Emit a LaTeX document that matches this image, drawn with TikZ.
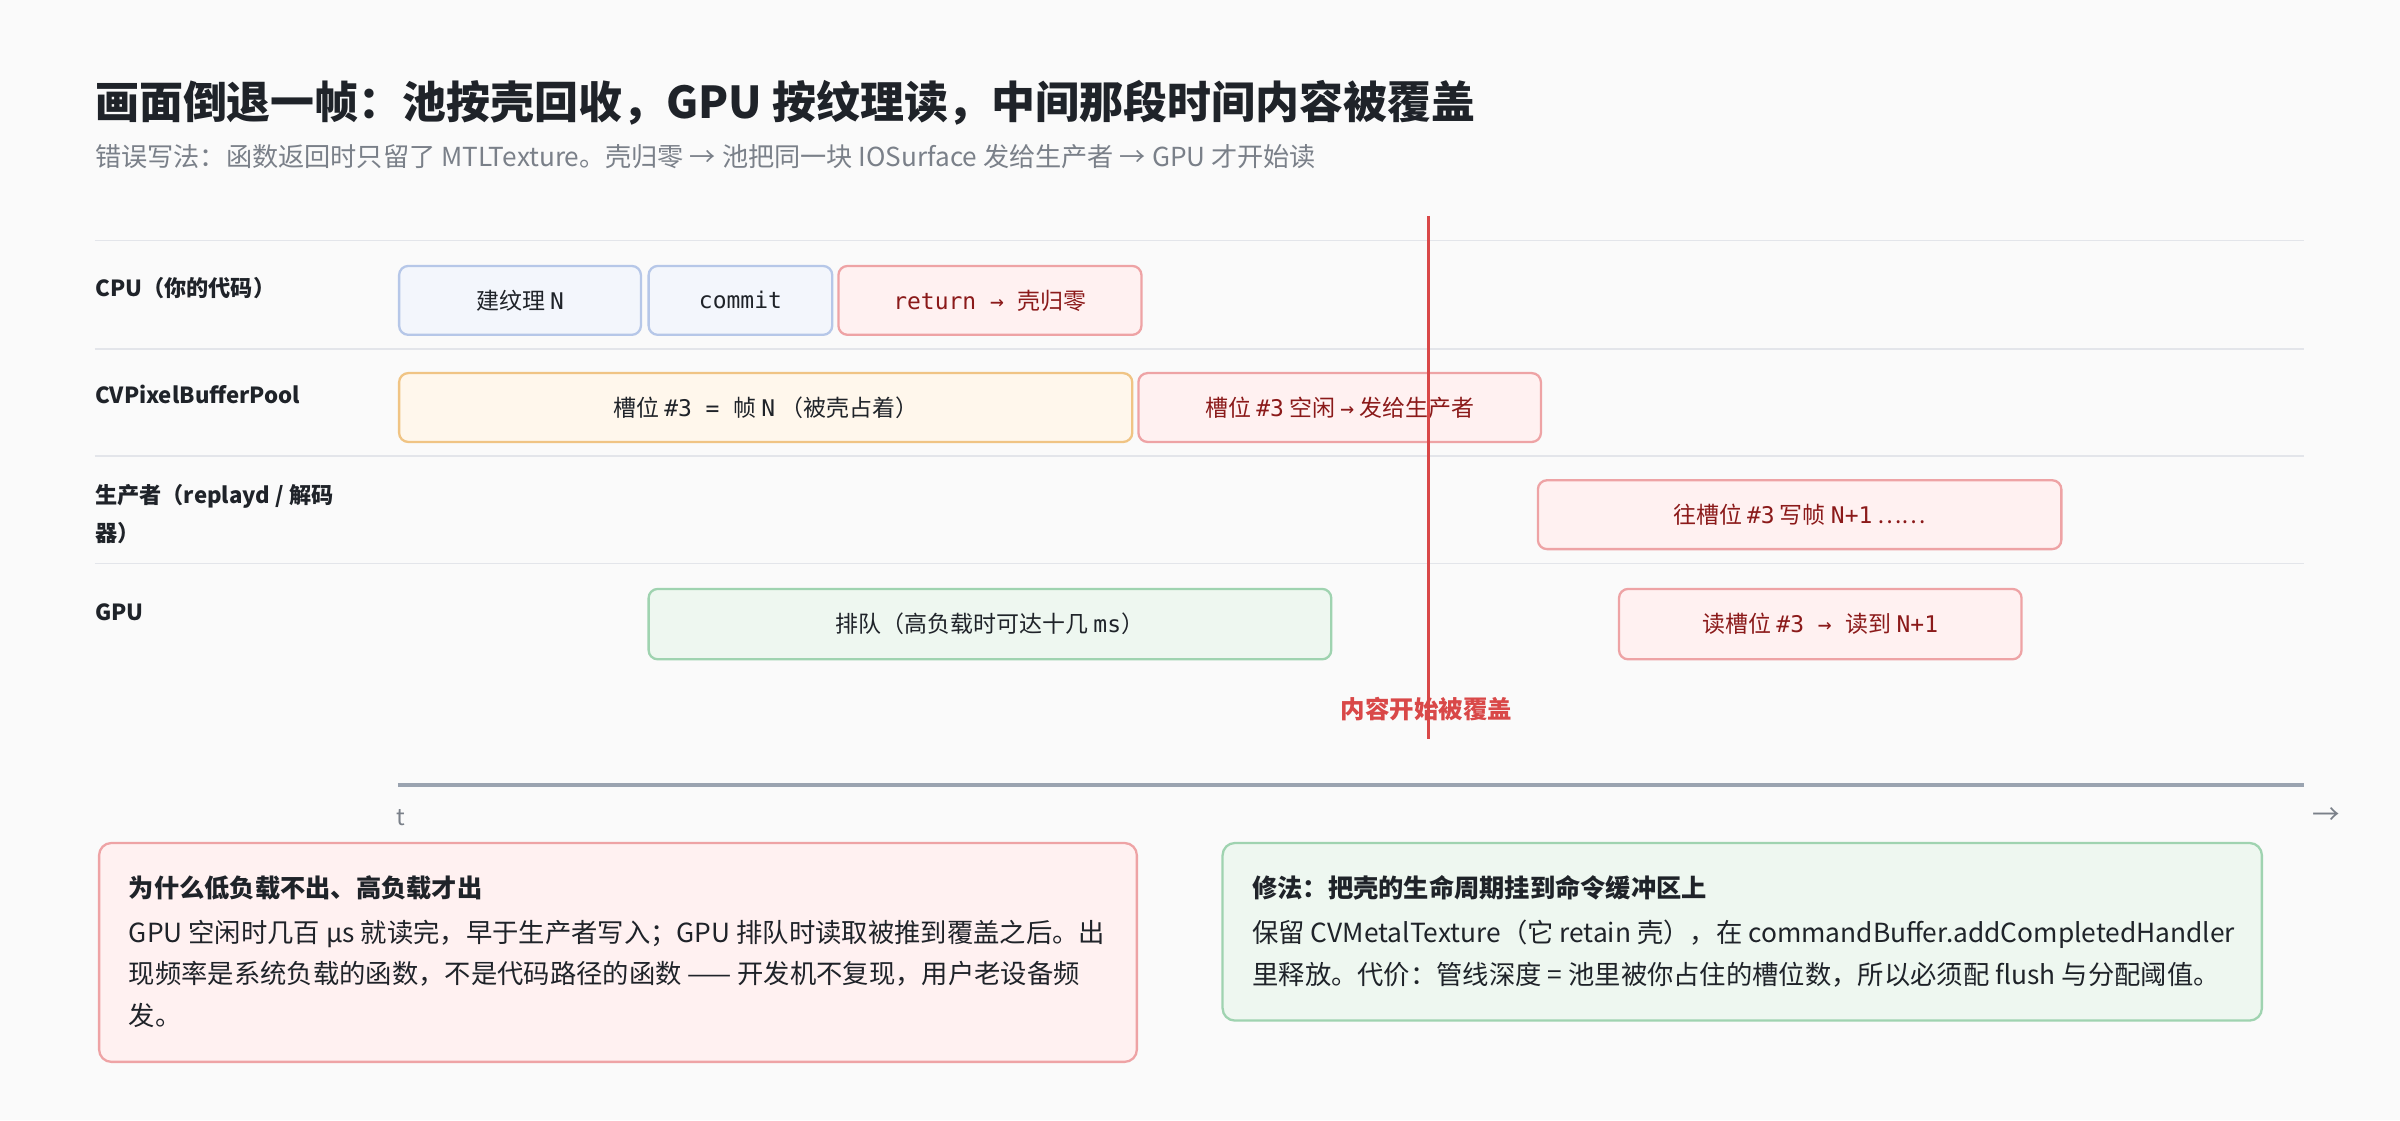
\documentclass[tikz,border=0pt]{standalone}
\usepackage{fontspec}
\setmainfont{Noto Sans CJK SC}
\newfontfamily\monof{DejaVu Sans Mono}
\newcommand{\m}[1]{{\monof #1}}
\usepackage{tikz}
\definecolor{bgpaper}{HTML}{FAFAFA}
\definecolor{inkdark}{HTML}{1F2329}
\definecolor{inkgray}{HTML}{7A8089}
\definecolor{rulegray}{HTML}{E3E5EA}
\definecolor{axisgray}{HTML}{9AA3B0}
\definecolor{blueline}{HTML}{B6C7E8}
\definecolor{bluefill}{HTML}{F3F6FC}
\definecolor{redline}{HTML}{EEA3A5}
\definecolor{redfill}{HTML}{FFF1F1}
\definecolor{redtext}{HTML}{8B1A1A}
\definecolor{orangeline}{HTML}{F0C484}
\definecolor{orangefill}{HTML}{FFF7EC}
\definecolor{greenline}{HTML}{9FD3B0}
\definecolor{greenfill}{HTML}{EEF7F0}
\definecolor{alertred}{HTML}{D94848}

\begin{document}
\begin{tikzpicture}[x=1pt, y=-1pt]
    \tikzstyle{lane} = [anchor=west, font=\fontsize{14.5}{17}\selectfont\bfseries, text=inkdark, inner sep=0pt]
    \tikzstyle{span} = [rectangle, rounded corners=6pt, line width=1.5pt, anchor=north west, inner sep=0pt, font=\fontsize{15}{18}\selectfont]
    \tikzstyle{mine} = [span, draw=blueline, fill=bluefill, text=inkdark]
    \tikzstyle{pool} = [span, draw=orangeline, fill=orangefill, text=inkdark]
    \tikzstyle{bad} = [span, draw=redline, fill=redfill, text=redtext]
    \tikzstyle{queue} = [span, draw=greenline, fill=greenfill, text=inkdark]
    \tikzstyle{note} = [rectangle, rounded corners=8pt, line width=1.5pt, anchor=north west, inner sep=0pt]
    \tikzstyle{notetext} = [anchor=north west, inner sep=0pt, align=left, text=inkdark, font=\fontsize{17.2}{27}\selectfont]

    \useasboundingbox [fill=bgpaper] (0,0) rectangle (1568,732);

    % Title
    \node [anchor=west, inner sep=0pt, text=inkdark, font=\fontsize{28.7}{32}\selectfont\bfseries] (title) at (62,67) {画面倒退一帧：池按壳回收，GPU 按纹理读，中间那段时间内容被覆盖};
    \node [anchor=west, inner sep=0pt, text=inkgray, font=\fontsize{17.1}{20}\selectfont] (subtitle) at (62,102) {错误写法：函数返回时只留了 MTLTexture。壳归零 → 池把同一块 IOSurface 发给生产者 → GPU 才开始读};

    % Lanes
    \foreach \y in {157,228,298,368}
        \draw [rulegray, line width=1pt] (62,\y) -- (1505,\y);
    \node [lane] (cpu) at (62,188) {CPU（你的代码）};
    \node [lane] (poolrow) at (62,258) {CVPixelBufferPool};
    \node [lane, anchor=north west, align=left, font=\fontsize{14.5}{25}\selectfont\bfseries] (producer) at (62,316) {生产者（replayd / 解码\\器）};
    \node [lane] (gpu) at (62,400) {GPU};

    % Spans
    \node [mine, minimum width=158pt, minimum height=45pt] (build) at (260,173) {建纹理 \m{N}};
    \node [mine, minimum width=120pt, minimum height=45pt] (commit) at (423,173) {\m{commit}};
    \node [bad, minimum width=198pt, minimum height=45pt] (ret) at (547,173) {\m{return → }壳归零};
    \node [pool, minimum width=479pt, minimum height=45pt] (slot) at (260,243) {槽位 \m{\#3 = }帧 \m{N} （被壳占着）};
    \node [bad, minimum width=263pt, minimum height=45pt] (free) at (743,243) {槽位 \m{\#3} 空闲 \m{→} 发给生产者};
    \node [bad, minimum width=342pt, minimum height=45pt] (write) at (1004,313) {往槽位 \m{\#3} 写帧 \m{N+1} ……};
    \node [queue, minimum width=446pt, minimum height=46pt] (wait) at (423,384) {排队（高负载时可达十几 \m{ms}）};
    \node [bad, minimum width=263pt, minimum height=46pt] (read) at (1057,384) {读槽位 \m{\#3 → }读到 \m{N+1}};

    % Overwrite marker
    \node [text=alertred, inner sep=0pt, font=\fontsize{16}{18}\selectfont\bfseries] (overwrite) at (932,463) {内容开始被覆盖};
    \draw [alertred, line width=2pt] (933,141) -- (933,483);

    % Time axis
    \draw [axisgray, line width=2.5pt] (260,513) -- (1505,513);
    \node [anchor=west, inner sep=0pt, text=inkgray, font=\fontsize{15}{17}\selectfont] (tlabel) at (259,534) {t};
    \node [inner sep=0pt, text=inkgray, font=\fontsize{18}{20}\selectfont] (tarrow) at (1520,533) {→};

    % Notes
    \node [note, draw=redline, fill=redfill, minimum width=678pt, minimum height=143pt] (why) at (64,550) {};
    \node [notetext, anchor=west, font=\fontsize{16.5}{20}\selectfont\bfseries] (whytitle) at (84,580) {为什么低负载不出、高负载才出};
    \node [notetext] (whybody) at (84,601) {GPU 空闲时几百 μs 就读完，早于生产者写入；GPU 排队时读取被推到覆盖之后。出\\现频率是系统负载的函数，不是代码路径的函数 —— 开发机不复现，用户老设备频\\发。};
    \node [note, draw=greenline, fill=greenfill, minimum width=679pt, minimum height=116pt] (fix) at (798,550) {};
    \node [notetext, anchor=west, font=\fontsize{16.5}{20}\selectfont\bfseries] (fixtitle) at (818,580) {修法：把壳的生命周期挂到命令缓冲区上};
    \node [notetext] (fixbody) at (818,601) {保留 CVMetalTexture（它 retain 壳），在 commandBuffer.addCompletedHandler\\里释放。代价：管线深度 = 池里被你占住的槽位数，所以必须配 flush 与分配阈值。};
\end{tikzpicture}
\end{document}
